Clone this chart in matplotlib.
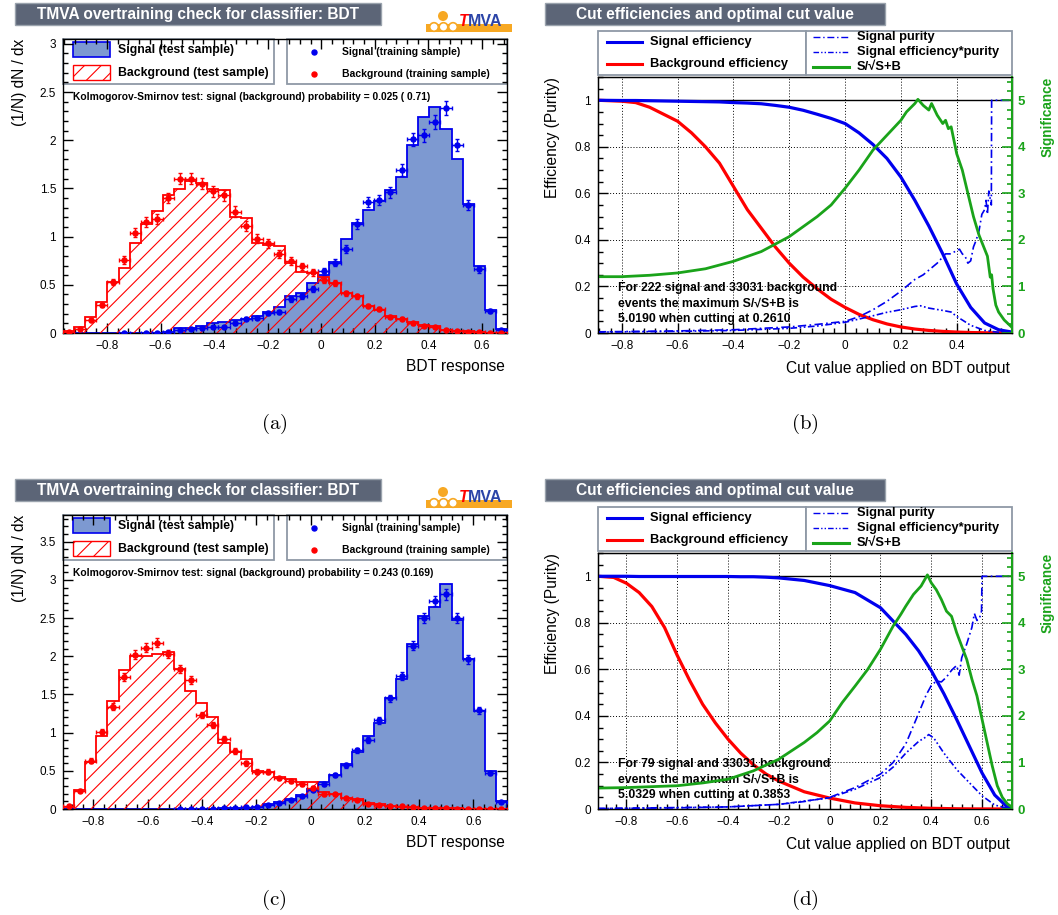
import numpy as np
import matplotlib
matplotlib.use("Agg")

import matplotlib.pyplot as plt
from matplotlib.patches import Rectangle, Circle
from matplotlib.ticker import MultipleLocator, FuncFormatter

plt.rcParams['font.family'] = ['Liberation Sans', 'DejaVu Sans']
plt.rcParams['mathtext.fontset'] = 'cm'
plt.rcParams['hatch.linewidth'] = 0.8

W, H = 1058, 915
BLUE = '#0000ee'
RED = '#ff0000'
GREEN = '#1aa31a'
SIG_FILL = '#7d99d1'
TITLE_BG = '#5c6577'
BOX_EDGE = '#8f99a6'
ORANGE = '#f7a823'

# ---- (a) overtraining check, 40 bins ----
a_range = (-0.964, 0.693)
a_sig_test = [0, 0, 0, 0, 0, 0, 0, 0, 0.005, 0.01, 0.05, 0.05, 0.07, 0.10, 0.11, 0.13, 0.15, 0.18, 0.22, 0.27,
              0.38, 0.41, 0.52, 0.60, 0.74, 0.97, 1.14, 1.28, 1.37, 1.48, 1.62, 1.95, 2.24, 2.34, 2.12, 1.81,
              1.34, 0.69, 0.24, 0.04]
a_bkg_test = [0.02, 0.06, 0.17, 0.32, 0.53, 0.67, 0.93, 1.13, 1.27, 1.43, 1.49, 1.58, 1.56, 1.49, 1.48, 1.20,
              1.19, 0.93, 0.91, 0.90, 0.73, 0.63, 0.62, 0.58, 0.52, 0.41, 0.38, 0.28, 0.24, 0.18, 0.15, 0.11,
              0.08, 0.07, 0.035, 0.025, 0.02, 0.01, 0.005, 0.003]
a_sig_train = [0, 0, 0, 0, 0, 0.003, 0, 0.003, 0.003, 0.01, 0.03, 0.04, 0.05, 0.06, 0.06, 0.10, 0.15, 0.16,
               0.21, 0.22, 0.35, 0.38, 0.46, 0.64, 0.73, 0.87, 1.13, 1.36, 1.38, 1.46, 1.69, 2.01, 2.05, 2.19,
               2.33, 1.95, 1.33, 0.66, 0.23, 0.03]
a_sig_err = [0, 0, 0, 0, 0, 0.003, 0, 0.003, 0.003, 0.005, 0.008, 0.009, 0.011, 0.012, 0.012, 0.015, 0.018,
             0.019, 0.022, 0.022, 0.028, 0.029, 0.032, 0.038, 0.040, 0.044, 0.050, 0.055, 0.055, 0.057, 0.061,
             0.067, 0.067, 0.070, 0.072, 0.066, 0.054, 0.038, 0.023, 0.008]
a_bkg_train = [0.01, 0.045, 0.13, 0.29, 0.53, 0.76, 1.04, 1.15, 1.18, 1.40, 1.60, 1.60, 1.55, 1.47, 1.43, 1.26,
               1.11, 0.98, 0.93, 0.82, 0.75, 0.69, 0.63, 0.55, 0.52, 0.41, 0.38, 0.28, 0.25, 0.17, 0.15, 0.10,
               0.07, 0.06, 0.03, 0.02, 0.01, 0.007, 0.004, 0.003]
a_bkg_err = [0.005, 0.010, 0.017, 0.025, 0.034, 0.041, 0.048, 0.050, 0.051, 0.056, 0.059, 0.059, 0.059, 0.057,
             0.056, 0.053, 0.050, 0.047, 0.045, 0.043, 0.041, 0.039, 0.037, 0.035, 0.034, 0.030, 0.029, 0.025,
             0.024, 0.019, 0.018, 0.015, 0.012, 0.012, 0.008, 0.007, 0.005, 0.004, 0.003, 0.003]
a_ks = 'Kolmogorov-Smirnov test: signal (background) probability = 0.025 ( 0.71)'

# ---- (c) overtraining check, 40 bins ----
c_range = (-0.912, 0.724)
c_sig_test = [0, 0, 0, 0, 0, 0, 0, 0, 0, 0, 0.002, 0.003, 0.004, 0.005, 0.01, 0.012, 0.017, 0.03, 0.065, 0.095,
              0.13, 0.18, 0.26, 0.36, 0.45, 0.59, 0.74, 0.95, 1.13, 1.46, 1.70, 2.16, 2.53, 2.65, 2.95, 2.48,
              1.96, 1.28, 0.50, 0.10]
c_bkg_test = [0.02, 0.25, 0.61, 0.96, 1.41, 1.82, 2.01, 2.01, 2.03, 2.05, 1.83, 1.55, 1.39, 1.20, 0.87, 0.75,
              0.65, 0.50, 0.49, 0.42, 0.39, 0.35, 0.36, 0.22, 0.19, 0.15, 0.13, 0.08, 0.065, 0.045, 0.03, 0.02,
              0.017, 0.01, 0.012, 0.008, 0.005, 0.003, 0.002, 0.001]
c_sig_train = [0, 0, 0, 0, 0, 0, 0, 0, 0, 0, 0.003, 0.003, 0.003, 0.003, 0.013, 0.017, 0.02, 0.03, 0.055, 0.085,
               0.12, 0.17, 0.25, 0.33, 0.45, 0.57, 0.77, 0.90, 1.16, 1.45, 1.74, 2.14, 2.50, 2.72, 2.81, 2.50,
               1.96, 1.29, 0.47, 0.095]
c_sig_err = [0, 0, 0, 0, 0, 0, 0, 0, 0, 0, 0.002, 0.002, 0.002, 0.002, 0.005, 0.005, 0.006, 0.007, 0.009, 0.012,
             0.014, 0.016, 0.020, 0.023, 0.027, 0.030, 0.035, 0.038, 0.043, 0.048, 0.053, 0.059, 0.063, 0.066,
             0.067, 0.063, 0.056, 0.045, 0.027, 0.012]
c_bkg_train = [0.035, 0.24, 0.63, 1.01, 1.34, 1.73, 2.02, 2.11, 2.18, 2.03, 1.83, 1.69, 1.23, 1.10, 0.92, 0.76,
               0.60, 0.49, 0.49, 0.40, 0.37, 0.33, 0.28, 0.19, 0.19, 0.14, 0.12, 0.07, 0.055, 0.045, 0.035, 0.02,
               0.013, 0.013, 0.01, 0.005, 0.005, 0.005, 0.005, 0.005]
c_bkg_err = [0.007, 0.020, 0.032, 0.040, 0.046, 0.053, 0.057, 0.058, 0.059, 0.057, 0.054, 0.052, 0.044, 0.042,
             0.038, 0.035, 0.031, 0.028, 0.028, 0.025, 0.024, 0.023, 0.021, 0.017, 0.017, 0.015, 0.014, 0.011,
             0.009, 0.008, 0.007, 0.006, 0.005, 0.005, 0.004, 0.003, 0.003, 0.003, 0.003, 0.003]
c_ks = 'Kolmogorov-Smirnov test: signal (background) probability = 0.243 (0.169)'

# ---- (b) cut efficiencies ----
b_range = (-0.885, 0.598)
b_cut = [-0.885, -0.8, -0.75, -0.7, -0.65, -0.6, -0.55, -0.5, -0.45, -0.4, -0.35, -0.3, -0.25, -0.2, -0.15,
         -0.1, -0.05, 0.0, 0.05, 0.1, 0.15, 0.2, 0.25, 0.3, 0.35, 0.4, 0.45, 0.5, 0.55, 0.598]
b_sig_eff = [1.0, 0.999, 0.999, 0.998, 0.997, 0.996, 0.995, 0.994, 0.993, 0.99, 0.988, 0.985, 0.978, 0.97,
             0.957, 0.94, 0.922, 0.90, 0.86, 0.81, 0.75, 0.67, 0.57, 0.46, 0.34, 0.21, 0.11, 0.043, 0.014, 0.004]
b_bkg_eff = [1.0, 0.996, 0.99, 0.97, 0.94, 0.91, 0.86, 0.80, 0.73, 0.63, 0.53, 0.45, 0.37, 0.30, 0.24, 0.19,
             0.145, 0.11, 0.08, 0.057, 0.039, 0.026, 0.017, 0.011, 0.007, 0.004, 0.002, 0.001, 0.0005, 0.0]
b_pur_x = [-0.885, -0.6, -0.4, -0.2, -0.1, 0.0, 0.05, 0.1, 0.15, 0.2, 0.25, 0.28, 0.3, 0.33, 0.36, 0.38, 0.4,
           0.41, 0.42, 0.43, 0.44, 0.45, 0.46, 0.47, 0.48, 0.49, 0.5, 0.505, 0.51, 0.515, 0.524, 0.525, 0.598]
b_purity = [0.005, 0.009, 0.014, 0.026, 0.037, 0.05, 0.07, 0.10, 0.136, 0.18, 0.23, 0.25, 0.27, 0.30, 0.34,
            0.34, 0.355, 0.36, 0.34, 0.33, 0.30, 0.31, 0.37, 0.40, 0.44, 0.51, 0.53, 0.57, 0.51, 0.61, 0.55,
            1.0, 1.0]
b_ep_x = [-0.885, -0.6, -0.4, -0.2, -0.1, 0.0, 0.05, 0.1, 0.15, 0.2, 0.25, 0.27, 0.3, 0.35, 0.38, 0.4, 0.45,
          0.5, 0.55, 0.598]
b_effpur = [0.004, 0.007, 0.011, 0.02, 0.03, 0.046, 0.06, 0.074, 0.089, 0.10, 0.114, 0.117, 0.107, 0.097, 0.09,
            0.071, 0.033, 0.011, 0.003, 0.0]
b_sig_x = [-0.885, -0.8, -0.7, -0.6, -0.5, -0.4, -0.3, -0.2, -0.1, -0.05, 0.0, 0.05, 0.1, 0.15, 0.2, 0.22, 0.25,
           0.261, 0.28, 0.3, 0.31, 0.33, 0.35, 0.36, 0.37, 0.38, 0.4, 0.42, 0.44, 0.46, 0.48, 0.5, 0.51, 0.52,
           0.525, 0.53, 0.54, 0.55, 0.57, 0.598]
b_signif = [1.21, 1.21, 1.24, 1.29, 1.38, 1.54, 1.75, 2.07, 2.50, 2.75, 3.11, 3.50, 3.93, 4.25, 4.57, 4.75,
            4.93, 5.02, 4.89, 4.79, 4.93, 4.68, 4.50, 4.57, 4.39, 4.43, 3.85, 3.5, 3.0, 2.5, 2.1, 1.8, 1.65, 1.2,
            1.25, 0.95, 0.6, 0.45, 0.28, 0.12]
b_info = ['For 222 signal and 33031 background', 'events the maximum S/\u221aS+B is',
          '5.0190 when cutting at 0.2610']

# ---- (d) cut efficiencies ----
d_range = (-0.912, 0.718)
d_cut = [-0.912, -0.85, -0.8, -0.75, -0.7, -0.65, -0.6, -0.55, -0.5, -0.45, -0.4, -0.35, -0.3, -0.25, -0.2,
         -0.1, 0.0, 0.1, 0.2, 0.3, 0.35, 0.4, 0.45, 0.5, 0.55, 0.6, 0.65, 0.7, 0.718]
d_sig_eff = [1.0, 1.0, 1.0, 0.999, 0.999, 0.999, 0.999, 0.999, 0.999, 0.999, 0.999, 0.998, 0.998, 0.996, 0.993,
             0.982, 0.96, 0.93, 0.865, 0.75, 0.68, 0.595, 0.495, 0.385, 0.27, 0.155, 0.06, 0.008, 0.0]
d_bkg_eff = [1.0, 0.995, 0.97, 0.93, 0.87, 0.78, 0.66, 0.55, 0.45, 0.37, 0.30, 0.24, 0.19, 0.15, 0.12, 0.074,
             0.047, 0.026, 0.014, 0.007, 0.005, 0.003, 0.002, 0.001, 0.0005, 0.0003, 0.0002, 0.0001, 0.0]
d_pur_x = [-0.912, -0.6, -0.4, -0.2, -0.1, 0.0, 0.1, 0.2, 0.25, 0.3, 0.35, 0.38, 0.4, 0.42, 0.44, 0.46, 0.48,
           0.5, 0.51, 0.52, 0.54, 0.56, 0.57, 0.58, 0.59, 0.598, 0.6, 0.718]
d_purity = [0.002, 0.005, 0.009, 0.02, 0.032, 0.05, 0.092, 0.15, 0.20, 0.28, 0.41, 0.49, 0.53, 0.55, 0.546,
            0.567, 0.596, 0.617, 0.575, 0.65, 0.71, 0.78, 0.84, 0.81, 0.82, 0.85, 1.0, 1.0]
d_ep_x = [-0.912, -0.4, -0.2, 0.0, 0.1, 0.2, 0.25, 0.3, 0.35, 0.38, 0.39, 0.41, 0.45, 0.5, 0.55, 0.6, 0.65,
          0.7, 0.718]
d_effpur = [0.002, 0.009, 0.02, 0.048, 0.085, 0.135, 0.18, 0.24, 0.29, 0.31, 0.32, 0.305, 0.24, 0.17, 0.113,
            0.057, 0.017, 0.003, 0.0]
d_sig_x = [-0.912, -0.8, -0.6, -0.5, -0.4, -0.3, -0.2, -0.1, -0.05, 0.0, 0.05, 0.1, 0.15, 0.2, 0.25, 0.28, 0.3,
           0.33, 0.36, 0.385, 0.4, 0.42, 0.44, 0.46, 0.48, 0.5, 0.52, 0.54, 0.56, 0.58, 0.6, 0.62, 0.64, 0.66,
           0.68, 0.7, 0.718]
d_signif = [0.45, 0.46, 0.5, 0.56, 0.64, 0.82, 1.07, 1.43, 1.64, 1.89, 2.29, 2.64, 3.0, 3.43, 3.93, 4.18, 4.36,
            4.61, 4.79, 5.03, 4.86, 4.71, 4.5, 4.25, 4.14, 3.79, 3.5, 3.21, 2.79, 2.43, 1.93, 1.43, 0.93, 0.5,
            0.25, 0.11, 0.04]
d_info = ['For 79 signal and 33031 background', 'events the maximum S/\u221aS+B is',
          '5.0329 when cutting at 0.3853']

ROW = 476  # vertical pixel offset of the lower row


def tick_fmt(v, pos):
    if abs(v) < 1e-9:
        return '0'
    return f'{v:g}'.replace('-', '\u2212')


fig = plt.figure(figsize=(W / 100, H / 100), dpi=100)
over = fig.add_axes([0, 0, 1, 1], zorder=0)
over.set_xlim(0, W)
over.set_ylim(H, 0)
over.axis('off')


def panel(left, top, right, bottom, z=1):
    ax = fig.add_axes([left / W, 1 - bottom / H, (right - left) / W, (bottom - top) / H], zorder=z)
    ax.set_facecolor('none')
    for s in ax.spines.values():
        s.set_linewidth(1.0)
    return ax


def title_box(x0, x1, y0, text):
    over.add_patch(Rectangle((x0, y0), x1 - x0, 22, fc=TITLE_BG, ec='#9aa3ad', lw=1))
    over.text((x0 + x1) / 2, y0 + 11.5, text, color='white', fontsize=11.2, fontweight='bold',
              ha='center', va='center')


def tmva_logo(dy):
    over.add_patch(Rectangle((426, 24 + dy), 86, 8, fc=ORANGE, ec='none'))
    over.add_patch(Circle((443, 16 + dy), 5, fc=ORANGE, ec='none'))
    for cx in (434, 443.5, 453):
        over.add_patch(Circle((cx, 27 + dy), 4.3, fc='white', ec=ORANGE, lw=1.2))
    over.text(459, 21 + dy, 'T', color=RED, fontsize=11.5, fontweight='bold', style='italic',
              ha='left', va='center')
    over.text(467.5, 21 + dy, 'MVA', color='#2b44a8', fontsize=11.5, fontweight='bold', ha='left', va='center')


def overtrain(dy, xr, ymax, sig_test, bkg_test, sig_tr, sig_err, bkg_tr, bkg_err, ks, label):
    ax = panel(63, 39 + dy, 507, 333 + dy)
    edges = np.linspace(xr[0], xr[1], len(sig_test) + 1)
    centers = 0.5 * (edges[:-1] + edges[1:])
    half = 0.5 * (edges[1] - edges[0])

    ax.stairs(sig_test, edges, fill=True, color=SIG_FILL, lw=0, zorder=1)
    ax.stairs(sig_test, edges, color=BLUE, lw=1.3, zorder=2)
    ax.stairs(bkg_test, edges, fill=True, facecolor='none', edgecolor=RED, hatch='//', lw=0, zorder=3)
    ax.stairs(bkg_test, edges, color=RED, lw=1.3, zorder=4)

    for vals, errs, col in ((sig_tr, sig_err, BLUE), (bkg_tr, bkg_err, RED)):
        vals = np.array(vals)
        errs = np.array(errs)
        m = vals > 0
        ax.errorbar(centers[m], vals[m], xerr=half, yerr=errs[m], fmt='o', ms=3.6, color=col,
                    elinewidth=1, capsize=1.3, capthick=1, zorder=5)

    ax.set_xlim(*xr)
    ax.set_ylim(0, ymax)
    ax.xaxis.set_major_locator(MultipleLocator(0.2))
    ax.xaxis.set_minor_locator(MultipleLocator(0.04))
    ax.yaxis.set_major_locator(MultipleLocator(0.5))
    ax.yaxis.set_minor_locator(MultipleLocator(0.1))
    ax.xaxis.set_major_formatter(FuncFormatter(tick_fmt))
    ax.yaxis.set_major_formatter(FuncFormatter(tick_fmt))
    ax.tick_params(which='both', direction='in', top=True, right=True, labelsize=8.5, width=1)
    ax.tick_params(which='major', length=7, pad=5)
    ax.tick_params(which='minor', length=3.5)

    ax.text(73, 97 + dy, ks, transform=over.transData, fontsize=7.4, fontweight='bold',
            ha='left', va='center', zorder=10)

    # legend boxes
    over.add_patch(Rectangle((63, 39 + dy), 211, 45, fc='white', ec=BOX_EDGE, lw=1.3))
    over.add_patch(Rectangle((287, 39 + dy), 220, 45, fc='white', ec=BOX_EDGE, lw=1.3))
    over.add_patch(Rectangle((73, 42 + dy), 37, 15, fc=SIG_FILL, ec=BLUE, lw=1.2))
    over.add_patch(Rectangle((73, 65 + dy), 37, 15, fc='white', ec=RED, hatch='//', lw=1.0))
    over.text(118, 50 + dy, 'Signal (test sample)', fontsize=8.8, fontweight='bold', va='center')
    over.text(118, 73 + dy, 'Background (test sample)', fontsize=8.8, fontweight='bold', va='center')
    over.plot([314], [52 + dy], 'o', ms=3.6, color=BLUE)
    over.plot([314], [74 + dy], 'o', ms=3.6, color=RED)
    over.text(342, 52 + dy, 'Signal (training sample)', fontsize=7.5, fontweight='bold', va='center')
    over.text(342, 74 + dy, 'Background (training sample)', fontsize=7.5, fontweight='bold', va='center')

    over.text(20, 39 + dy, '(1/N) dN / dx', rotation=90, fontsize=11.2, ha='center', va='top')
    over.text(505, 367 + dy, 'BDT response', fontsize=11.2, ha='right', va='center')
    over.text(274, 424 + dy, label, fontsize=15, ha='center', va='center')
    title_box(15, 381, 3 + dy, 'TMVA overtraining check for classifier: BDT')
    tmva_logo(dy)


def efficiency(dy, xr, cut, sig_eff, bkg_eff, pur_x, pur, ep_x, ep, sx, signif, info, label):
    ax = panel(598, 77 + dy, 1012, 333 + dy)
    ax.grid(True, which='major', color='black', lw=0.7, linestyle=(0, (1, 2)))
    ax.axhline(1.0, color='black', lw=1.0, zorder=2)
    ax.plot(cut, bkg_eff, color=RED, lw=2.3, zorder=3)
    ax.plot(cut, sig_eff, color=BLUE, lw=2.3, zorder=3)
    ax.plot(pur_x, pur, color=BLUE, lw=1.2, linestyle=(0, (5, 2, 1, 2)), zorder=3)
    ax.plot(ep_x, ep, color=BLUE, lw=1.2, linestyle=(0, (4, 1.5, 1, 1.5, 1, 1.5)), zorder=3)

    ax.set_xlim(*xr)
    ax.set_ylim(0, 1.1)
    ax.xaxis.set_major_locator(MultipleLocator(0.2))
    ax.xaxis.set_minor_locator(MultipleLocator(0.04))
    ax.yaxis.set_major_locator(MultipleLocator(0.2))
    ax.yaxis.set_minor_locator(MultipleLocator(0.05))
    ax.xaxis.set_major_formatter(FuncFormatter(tick_fmt))
    ax.yaxis.set_major_formatter(FuncFormatter(tick_fmt))
    ax.tick_params(which='both', direction='in', labelsize=8.5, width=1)
    ax.tick_params(which='major', length=7, pad=5)
    ax.tick_params(which='minor', length=3.5)

    tw = ax.twinx()
    tw.set_zorder(2)
    tw.set_facecolor('none')
    tw.plot(sx, signif, color=GREEN, lw=2.0)
    tw.set_ylim(0, 5.5)
    tw.yaxis.set_major_locator(MultipleLocator(1))
    tw.yaxis.set_minor_locator(MultipleLocator(0.2))
    tw.set_yticks(range(6))
    tw.set_yticklabels([str(i) for i in range(6)], fontweight='bold', color=GREEN, fontsize=9.5)
    tw.tick_params(which='both', direction='in', colors=GREEN, width=1.2)
    tw.tick_params(which='major', length=7, pad=4)
    tw.tick_params(which='minor', length=3.5)
    tw.spines['right'].set_color(GREEN)
    tw.spines['right'].set_linewidth(1.5)

    for i, line in enumerate(info):
        ax.text(618, 288 + dy + 15.5 * i, line, transform=over.transData, fontsize=8.8,
                fontweight='bold', ha='left', va='center', zorder=10)

    # legend
    over.add_patch(Rectangle((598, 31 + dy), 208, 44, fc='white', ec=BOX_EDGE, lw=1.3))
    over.add_patch(Rectangle((806, 31 + dy), 206, 44, fc='white', ec=BOX_EDGE, lw=1.3))
    over.plot([607, 642], [42 + dy, 42 + dy], color=BLUE, lw=2.2)
    over.plot([607, 642], [64 + dy, 64 + dy], color=RED, lw=2.2)
    over.text(650, 42 + dy, 'Signal efficiency', fontsize=9.3, fontweight='bold', va='center')
    over.text(650, 64 + dy, 'Background efficiency', fontsize=9.3, fontweight='bold', va='center')
    over.plot([813, 849], [37 + dy, 37 + dy], color=BLUE, lw=1.0, linestyle=(0, (5, 2, 1, 2)))
    over.plot([813, 849], [52 + dy, 52 + dy], color=BLUE, lw=1.0, linestyle=(0, (4, 1.5, 1, 1.5, 1, 1.5)))
    over.plot([813, 849], [67 + dy, 67 + dy], color=GREEN, lw=2.2)
    over.text(857, 37 + dy, 'Signal purity', fontsize=9.3, fontweight='bold', va='center')
    over.text(857, 52 + dy, 'Signal efficiency*purity', fontsize=9.3, fontweight='bold', va='center')
    over.text(857, 67 + dy, 'S/\u221aS+B', fontsize=9.3, fontweight='bold', va='center')

    over.text(552, 77 + dy, 'Efficiency (Purity)', rotation=90, fontsize=11.2, ha='center', va='top')
    over.text(1048, 77 + dy, 'Significance', rotation=90, fontsize=9.8, fontweight='bold', color=GREEN,
              ha='center', va='top')
    over.text(1010, 368 + dy, 'Cut value applied on BDT output', fontsize=11.2, ha='right', va='center')
    over.text(805, 424 + dy, label, fontsize=15, ha='center', va='center')
    title_box(545, 885, 3 + dy, 'Cut efficiencies and optimal cut value')


overtrain(0, a_range, 3.05, a_sig_test, a_bkg_test, a_sig_train, a_sig_err, a_bkg_train, a_bkg_err,
          a_ks, r'$\mathrm{(a)}$')
overtrain(ROW, c_range, 3.85, c_sig_test, c_bkg_test, c_sig_train, c_sig_err, c_bkg_train, c_bkg_err,
          c_ks, r'$\mathrm{(c)}$')
efficiency(0, b_range, b_cut, b_sig_eff, b_bkg_eff, b_pur_x, b_purity, b_ep_x, b_effpur, b_sig_x, b_signif,
           b_info, r'$\mathrm{(b)}$')
efficiency(ROW, d_range, d_cut, d_sig_eff, d_bkg_eff, d_pur_x, d_purity, d_ep_x, d_effpur, d_sig_x, d_signif,
           d_info, r'$\mathrm{(d)}$')

fig.savefig('out.png', dpi=100)
plt.close(fig)
